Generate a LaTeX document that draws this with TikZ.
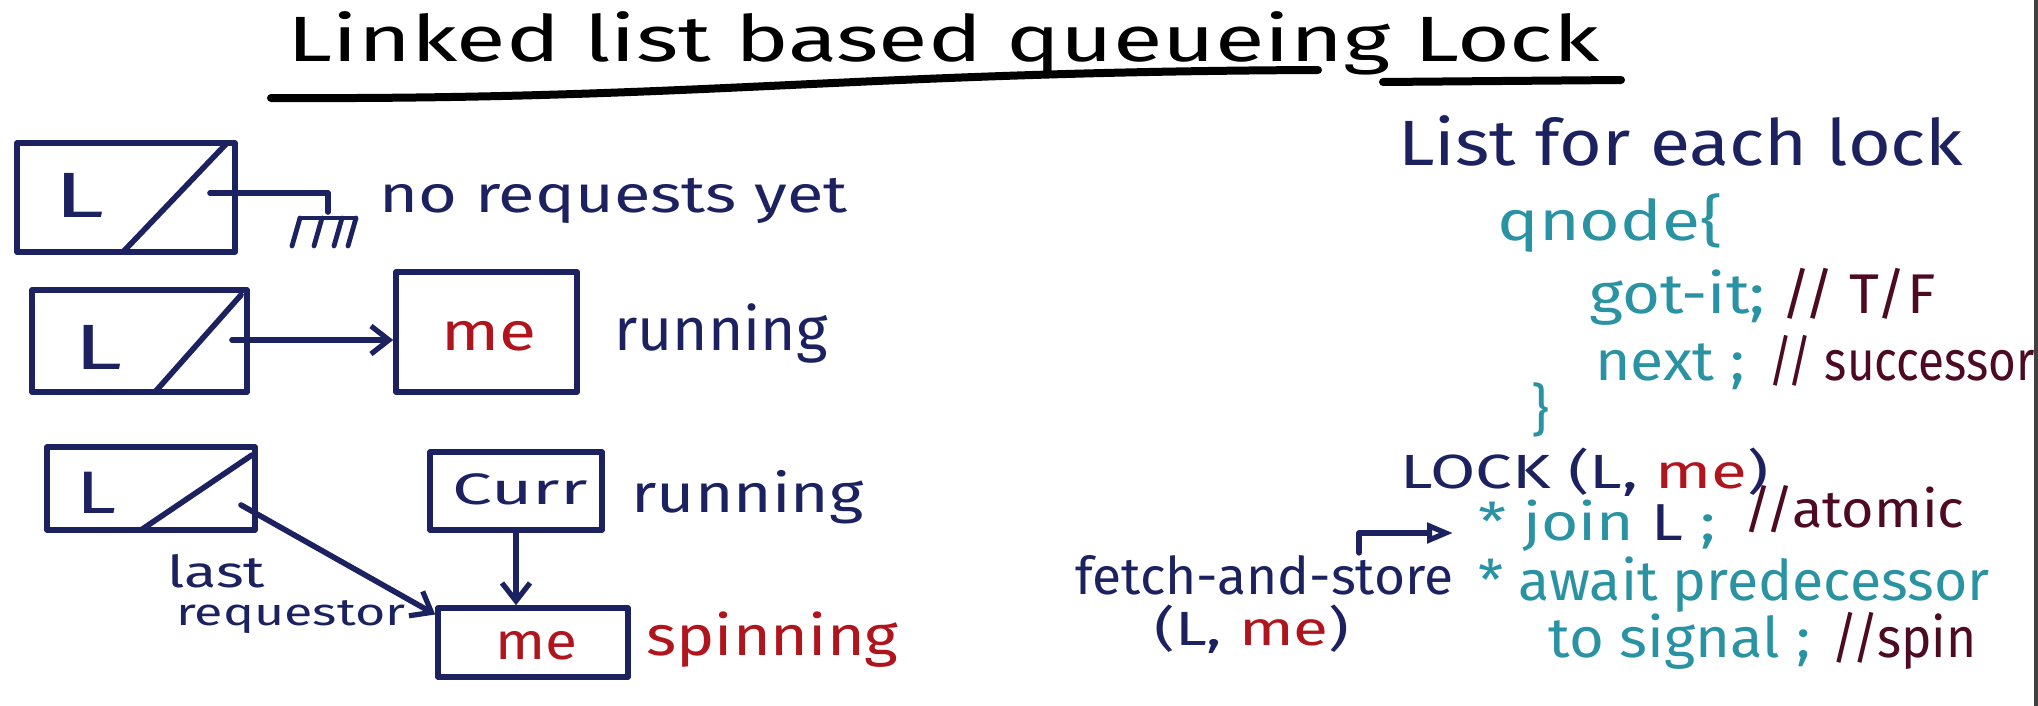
\documentclass[tikz,border=0pt]{standalone}
\usepackage{fontspec}
\setmainfont{Fira Sans}
\usepackage{graphicx}
\usetikzlibrary{arrows.meta}
\definecolor{navy}{HTML}{1C2160}
\definecolor{tealc}{HTML}{2A93A3}
\definecolor{maroonc}{HTML}{4D0A22}
\definecolor{redc}{HTML}{B0141C}
\newcommand{\hw}[2]{\resizebox{#1}{\height}{#2}}
\newcommand{\fs}[1]{\fontsize{#1}{#1}\selectfont}
\tikzset{
  pen/.style={draw=navy, line width=2.8pt, line cap=round, line join=round},
  cell/.style={pen, rectangle, inner sep=0pt},
  txt/.style={anchor=base west, inner sep=0pt, text=navy},
  ctxt/.style={anchor=center, inner sep=0pt, text=navy},
  arr/.style={pen, -{Straight Barb[length=9pt,width=14pt,line width=2.6pt]}},
}
\begin{document}
\begin{tikzpicture}[x=0.5pt,y=-0.5pt]
\fill[white] (0,0) rectangle (2038,706);
\useasboundingbox (0,0) rectangle (2038,706);
\fill[black!75] (2034,0) rectangle (2038,706);

% title
\node[txt, text=black, font=\fs{32}] (title) at (287,62) {\hw{656pt}{Linked list based queueing Lock}};
\draw[black, line width=4pt, line cap=round] (271,98) .. controls (700,100) and (850,72) .. (1318,70);
\draw[black, line width=4pt, line cap=round] (1383,82) -- (1621,80);

% row 1
\node[cell, minimum width=109pt, minimum height=54.5pt] (A) at (126,197.5) {};
\draw[pen] (123,252) -- (227,143);
\node[ctxt, font=\fs{32}] (LA) at (80,195) {\hw{25pt}{L}};
\coordinate (pA) at (210,193);
\coordinate (gA) at (328,212);
\draw[pen] (pA) -- (328,193) -- (gA);
\draw[pen, line width=2.4pt] (300,218) -- (355,218);
\foreach \x in {300,322,342,356} \draw[pen, line width=2.4pt] (\x,218) -- (\x-8,246);
\node[txt, font=\fs{26}] (norq) at (379,213) {\hw{234pt}{no requests yet}};

% row 2
\node[cell, minimum width=107.5pt, minimum height=51pt] (B) at (139.5,341) {};
\draw[pen] (155,392) -- (241,295);
\node[ctxt, font=\fs{32}] (LB) at (99,347.5) {\hw{24pt}{L}};
\node[cell, minimum width=90.5pt, minimum height=60pt] (meB) at (486.5,332) {};
\node[ctxt, text=redc, font=\fs{27}] (meBt) at (489,336) {\hw{47.5pt}{me}};
\coordinate (pB) at (232,340);
\draw[arr] (pB) -- (pB -| meB.west);
\node[txt, font=\fs{30}] (run2) at (614,350) {\hw{106.5pt}{running}};

% row 3
\node[cell, minimum width=104pt, minimum height=41.5pt] (C) at (151,488.5) {};
\draw[pen] (141,530) -- (252,455);
\node[ctxt, font=\fs{30}] (LC) at (96.5,493) {\hw{20pt}{L}};
\node[cell, minimum width=86pt, minimum height=39pt] (curr) at (516,491) {};
\node[ctxt, font=\fs{22}] (currt) at (520,489) {\hw{67.5pt}{Curr}};
\node[txt, font=\fs{27}] (run3) at (631,512) {\hw{116pt}{running}};
\node[cell, minimum width=95pt, minimum height=34.5pt] (meS) at (533,642.5) {};
\node[ctxt, text=redc, font=\fs{26}] (meSt) at (536,646) {\hw{41pt}{me}};
\node[txt, text=redc, font=\fs{28}] (spin) at (646,655) {\hw{126pt}{spinning}};
\coordinate (pC) at (241,505);
\draw[arr] (pC) -- ([yshift=14pt]meS.west);
\draw[arr] (curr.south) -- (curr.south |- meS.north);
\node[txt, font=\fs{22}] (last) at (167,587) {\hw{49pt}{last}};
\node[txt, font=\fs{19}] (req) at (176,625) {\hw{114.5pt}{requestor}};

% right side
\node[txt, font=\fs{32}] (list) at (1398,165) {\hw{282.5pt}{List for each lock}};
\node[txt, text=tealc, font=\fs{28}] (qnode) at (1497,240) {\hw{112.5pt}{qnode\{}};
\node[txt, text=tealc, font=\fs{28}] (gotit) at (1589,313) {\hw{88pt}{got-it;}};
\node[txt, text=maroonc, font=\fs{28}] (tf) at (1781,313) {\hw{77pt}{// T/F}};
\node[txt, text=tealc, font=\fs{28}] (next) at (1595,380) {\hw{75pt}{next ;}};
\node[txt, text=maroonc, font=\fs{28}] (succ) at (1768,380) {\hw{133pt}{// successor}};
\node[ctxt, text=tealc, font=\fs{28}] (brace) at (1540,410) {\}};
\node[txt, font=\fs{24}] (lock) at (1400,488) {\hw{184pt}{LOCK (L, \textcolor{redc}{me})}};
\node[txt, text=tealc, font=\fs{26}] (join) at (1478,540) {\hw{118.5pt}{* join \textcolor{navy}{L} ;}};
\node[txt, text=maroonc, font=\fs{26}] (atomic) at (1743,527) {\hw{110.5pt}{//atomic}};
\node[txt, text=tealc, font=\fs{28}] (await) at (1478,600) {\hw{255.5pt}{* await predecessor}};
\node[txt, text=tealc, font=\fs{28}] (signal) at (1548,657) {\hw{131pt}{to signal ;}};
\node[txt, text=maroonc, font=\fs{28}] (spinc) at (1831,657) {\hw{72.5pt}{//spin}};
\node[txt, font=\fs{26}] (fetch) at (1075,594) {\hw{189pt}{fetch-and-store}};
\node[txt, font=\fs{24}] (lme) at (1154,645) {\hw{97.5pt}{(L, \textcolor{redc}{me})}};
\coordinate (fa) at (1359,553);
\coordinate (fb) at (1453,533);
\draw[pen, line width=2.6pt, -{Triangle[open,length=13pt,width=10pt]}] (fa) |- (fb);
\end{tikzpicture}
\end{document}
